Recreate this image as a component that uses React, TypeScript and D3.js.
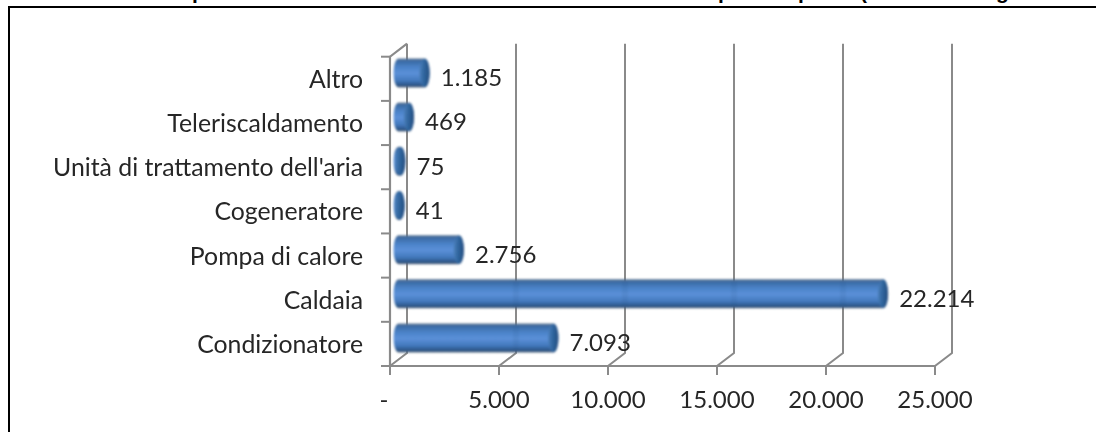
import React from 'react';
import * as d3 from 'd3';

const categories = ['Altro', 'Teleriscaldamento', "Unità di trattamento dell'aria", 'Cogeneratore', 'Pompa di calore', 'Caldaia', 'Condizionatore'];
const values = [1185, 469, 75, 41, 2756, 22214, 7093];
const valueLabels = ['1.185', '469', '75', '41', '2.756', '22.214', '7.093'];
const xTicks = [0, 5000, 10000, 15000, 20000, 25000];
const xTickLabels = ['-', '5.000', '10.000', '15.000', '20.000', '25.000'];
const titleGlyphs = 'ppp(g';

const W = 1096, H = 432;
const FRONT_LEFT = 390, FRONT_RIGHT = 935, FRONT_TOP = 56.7, FLOOR = 366;
const DEPTH_X = 17, DEPTH_Y = 13, TICK = 9;
const BAR_H = 29, CAP_RX = 5.2;
const FONT = 'Lato, Carlito, Calibri, sans-serif';

const x = d3.scaleLinear().domain([0, 25000]).range([FRONT_LEFT, FRONT_RIGHT]);
const y = d3.scaleBand<string>().domain(categories).range([FRONT_TOP, FLOOR]);
const GREY = '#8a8a8a';

function barPath(left: number, right: number, top: number, h: number) {
  const p = d3.path();
  const rx = CAP_RX;
  p.moveTo(left, top);
  p.lineTo(right, top);
  p.bezierCurveTo(right + rx * 1.3, top, right + rx * 1.3, top + h, right, top + h);
  p.lineTo(left, top + h);
  p.bezierCurveTo(left - rx * 1.3, top + h, left - rx * 1.3, top, left, top);
  p.closePath();
  return p.toString();
}

export default function App() {
  const wallBottom = FLOOR - DEPTH_Y;
  const wallTop = FRONT_TOP - DEPTH_Y;
  const barShift = 8.7;
  return (
    <svg width={W} height={H} viewBox={`0 0 ${W} ${H}`} style={{ position: 'absolute', left: 0, top: 0, display: 'block', background: '#fff' }}>
      <defs>
        <linearGradient id="body" x1="0" y1="0" x2="0" y2="1">
          <stop offset="0" stopColor="#5f7690" />
          <stop offset="0.09" stopColor="#3a6aa4" />
          <stop offset="0.32" stopColor="#4c84ca" />
          <stop offset="0.52" stopColor="#5b90d8" />
          <stop offset="0.76" stopColor="#4379bd" />
          <stop offset="0.93" stopColor="#2b5485" />
          <stop offset="1" stopColor="#5a6b80" />
        </linearGradient>
        <linearGradient id="cap" x1="0" y1="0" x2="1" y2="0.1">
          <stop offset="0" stopColor="#4f82bd" />
          <stop offset="0.5" stopColor="#2f659e" />
          <stop offset="1" stopColor="#274f80" />
        </linearGradient>
        <filter id="soft" x="-5%" y="-5%" width="110%" height="110%">
          <feGaussianBlur stdDeviation="0.45" />
        </filter>
        <filter id="softBar" x="-5%" y="-15%" width="110%" height="130%">
          <feGaussianBlur stdDeviation="0.8" />
        </filter>
      </defs>

      {/* frame, open at the page's right and bottom edges */}
      <path d={`M9 ${H}V7H${W}`} fill="none" stroke="#000" strokeWidth={2} />

      {/* title, cut off by the top of the page */}
      <text
        x="192 718 798 860 996"
        y={-1}
        fontFamily="'Liberation Sans', Arial, sans-serif"
        fontWeight={700}
        fontSize={21}
        fill="#000"
      >
        {titleGlyphs}
      </text>

      <g filter="url(#soft)" stroke={GREY} fill="none">
        {xTicks.map((t) => (
          <path
            key={t}
            strokeWidth={2}
            d={`M${x(t)} ${FLOOR + TICK}V${FLOOR}L${x(t) + DEPTH_X} ${wallBottom}V${wallTop}`}
          />
        ))}
        <path strokeWidth={2.2} d={`M${x(0)} ${FLOOR}V${FRONT_TOP}L${x(0) + DEPTH_X} ${wallTop}`} />
        <path strokeWidth={2.2} d={`M${x(0)} ${FLOOR}H${x(25000)}`} />
        {[...categories.map((c) => y(c) as number), FLOOR].map((t) => (
          <path key={t} strokeWidth={2} d={`M${x(0) - TICK} ${t}H${x(0)}`} />
        ))}
      </g>

      <g filter="url(#softBar)">
        {categories.map((c, i) => {
          const cy = (y(c) as number) + y.bandwidth() / 2 - 6.5 + 0.6;
          const top = cy - BAR_H / 2;
          const left = x(0) + barShift;
          const right = x(values[i]) + barShift;
          return (
            <g key={c}>
              <path d={barPath(left, right, top, BAR_H)} fill="url(#body)" />
              {xTicks.filter((t) => t > 0 && x(t) + DEPTH_X < right).map((t) => (
                <rect key={t} x={x(t) + DEPTH_X - 3} y={top + 1} width={6} height={BAR_H - 2} fill="#24507f" opacity={0.09} />
              ))}
              <ellipse cx={right} cy={cy} rx={CAP_RX} ry={BAR_H / 2 - 0.3} fill="url(#cap)" />
            </g>
          );
        })}
      </g>

      <g filter="url(#soft)" fontFamily={FONT} fill="#262626">
        {categories.map((c) => (
          <text key={c} fontSize={24.8} x={363} y={(y(c) as number) + y.bandwidth() / 2 + 9} textAnchor="end">{c}</text>
        ))}
        {categories.map((c, i) => (
          <text key={c} fontSize={24} x={x(values[i]) + barShift + CAP_RX + 11} y={(y(c) as number) + y.bandwidth() / 2 + 7.5}>{valueLabels[i]}</text>
        ))}
        {xTicks.map((t, i) => (
          <text key={t} fontSize={24} x={i === 0 ? x(t) - 6 : x(t)} y={408} textAnchor="middle">{xTickLabels[i]}</text>
        ))}
      </g>
    </svg>
  );
}
